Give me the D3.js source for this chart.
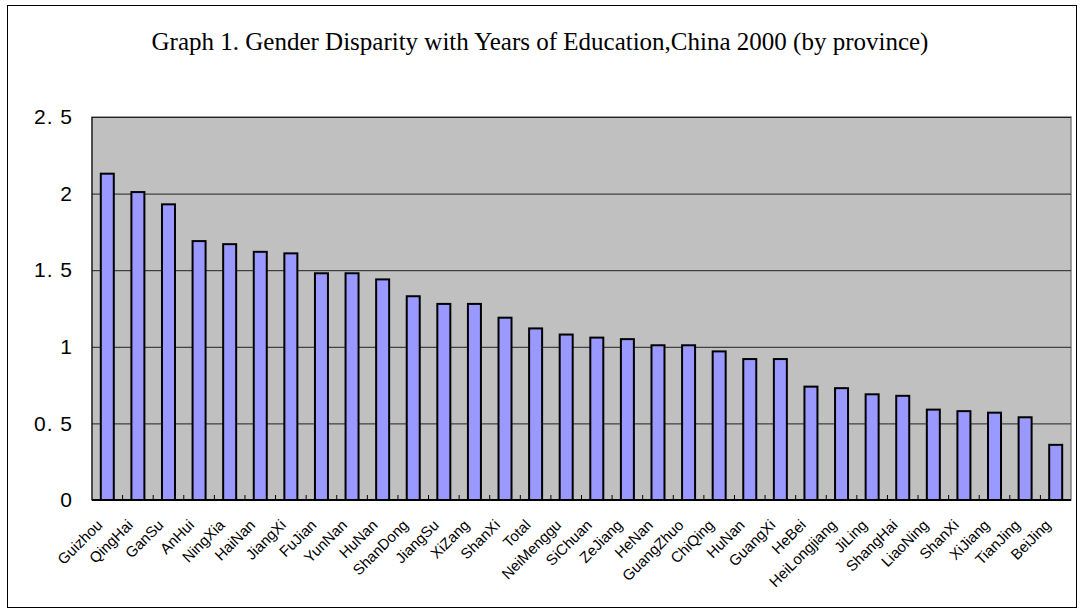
<!DOCTYPE html>
<html>
<head>
<meta charset="utf-8">
<style>
  body { margin: 0; background: #fff; }
  svg { display: block; }
  .y .domain { display: none; }
  .y .tick line { stroke: #222; stroke-width: 1; }
  .y .tick text { font-family: "Liberation Sans", Arial, sans-serif; font-size: 21px; letter-spacing: 1px; fill: #000; }
</style>
</head>
<body>
<svg width="1082" height="615"></svg>
<script src="https://d3js.org/d3.v7.min.js"></script>
<script>
// provinces, in the order of the chart
const provinces = ["Guizhou", "QingHai", "GanSu", "AnHui", "NingXia", "HaiNan", "JiangXi", "FuJian",
  "YunNan", "HuNan", "ShanDong", "JiangSu", "XiZang", "ShanXi", "Total", "NeiMenggu", "SiChuan",
  "ZeJiang", "HeNan", "GuangZhuo", "ChiQing", "HuNan ", "GuangXi", "HeBei", "HeiLongjiang", "JiLing",
  "ShangHai", "LiaoNing", "ShanXi ", "XiJiang", "TianJing", "BeiJing"];

// gender gap in years of education
const gaps = [2.13, 2.01, 1.93, 1.69, 1.67, 1.62, 1.61, 1.48,
  1.48, 1.44, 1.33, 1.28, 1.28, 1.19, 1.12, 1.08, 1.06,
  1.05, 1.01, 1.01, 0.97, 0.92, 0.92, 0.74, 0.73, 0.69,
  0.68, 0.59, 0.58, 0.57, 0.54, 0.36];

const yTicks = [0, 0.5, 1, 1.5, 2, 2.5];
const yTickLabels = ["0", "0. 5", "1", "1. 5", "2", "2. 5"];

const data = provinces.map((p, i) => ({ name: p, value: gaps[i] }));

const svg = d3.select("svg");
const margin = { top: 117, right: 11, bottom: 115, left: 92 };
const width = 1082, height = 615;
const plotW = width - margin.right - margin.left;

// outer frame
svg.append("rect")
  .attr("x", 7.5).attr("y", 5.5)
  .attr("width", 1069).attr("height", 602)
  .attr("fill", "#fff")
  .attr("stroke", "#000")
  .attr("stroke-width", 1);

svg.append("text")
  .attr("x", 540)
  .attr("y", 50)
  .attr("text-anchor", "middle")
  .style("font-family", "'Liberation Serif', 'Times New Roman', serif")
  .style("font-size", "25px")
  .text("Graph 1. Gender Disparity with Years of Education,China 2000 (by province)");

const x = d3.scaleBand()
  .domain(provinces)
  .range([margin.left, width - margin.right])
  .paddingInner(0.575)
  .paddingOuter(0.2875);

const y = d3.scaleLinear()
  .domain([0, 2.5])
  .range([height - margin.bottom, margin.top]);

// plot area
svg.append("rect")
  .attr("x", margin.left)
  .attr("y", margin.top)
  .attr("width", plotW)
  .attr("height", height - margin.bottom - margin.top)
  .attr("fill", "#C0C0C0")
  .attr("stroke", "#808080")
  .attr("stroke-width", 1.5);

svg.append("g")
  .attr("class", "y")
  .attr("transform", `translate(${margin.left},0)`)
  .call(d3.axisLeft(y)
    .tickValues(yTicks)
    .tickSize(-plotW)
    .tickPadding(19)
    .tickFormat((d, i) => yTickLabels[i]));

// category tick marks between bars
svg.append("g")
  .selectAll("line")
  .data(d3.range(1, provinces.length))
  .join("line")
  .attr("x1", i => margin.left + i * x.step())
  .attr("x2", i => margin.left + i * x.step())
  .attr("y1", height - margin.bottom)
  .attr("y2", height - margin.bottom - 5)
  .attr("stroke", "#000");

svg.append("g")
  .selectAll("rect")
  .data(data)
  .join("rect")
  .attr("x", d => x(d.name))
  .attr("y", d => y(d.value))
  .attr("width", x.bandwidth())
  .attr("height", d => y(0) - y(d.value))
  .attr("fill", "#9999FF")
  .attr("stroke", "#000")
  .attr("stroke-width", 2);

// axis lines
svg.append("line")
  .attr("x1", margin.left).attr("x2", margin.left)
  .attr("y1", margin.top).attr("y2", height - margin.bottom)
  .attr("stroke", "#000");
svg.append("line")
  .attr("x1", margin.left).attr("x2", width - margin.right)
  .attr("y1", height - margin.bottom).attr("y2", height - margin.bottom)
  .attr("stroke", "#000")
  .attr("stroke-width", 2);

// rotated labels
svg.append("g")
  .selectAll("text")
  .data(data)
  .join("text")
  .attr("transform", d => `translate(${x(d.name) + x.bandwidth() / 2 - 4},${height - margin.bottom + 26}) rotate(-45)`)
  .attr("text-anchor", "end")
  .style("font-family", "'Liberation Sans', Arial, sans-serif")
  .style("font-size", "15px")
  .text(d => d.name.trim());
</script>
</body>
</html>
